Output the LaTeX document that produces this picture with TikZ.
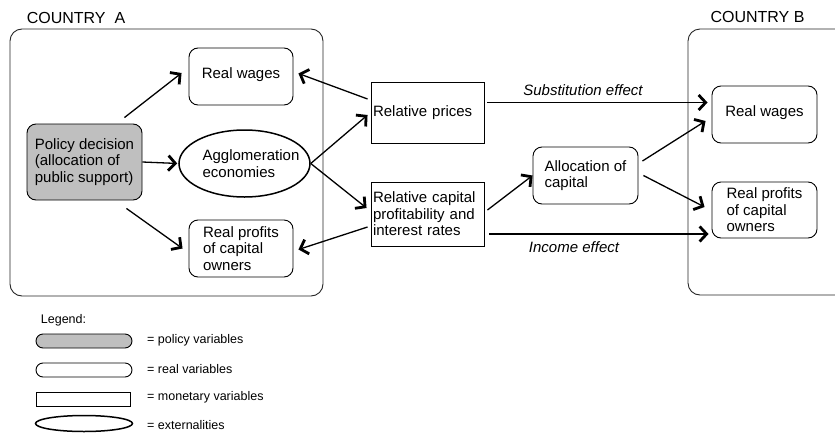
\documentclass[tikz,border=0pt]{standalone}
\usepackage{fontspec}
\setmainfont{Liberation Sans}
\usetikzlibrary{arrows.meta,shapes.geometric}
\begin{document}
\begin{tikzpicture}[x=1pt,y=-1pt,
  every node/.style={font=\fontsize{15}{16.6}\selectfont},
  rbox/.style={draw, rounded corners=9pt, line width=0.9pt, align=left, inner sep=0pt},
  mbox/.style={draw, line width=0.9pt, align=left, inner xsep=2pt, inner ysep=0pt, text width=109pt},
  arr/.style={line width=1.3pt, -{Straight Barb[length=7pt,width=15pt,line width=2.8pt]}},
  lbl/.style={font=\fontsize{15}{16.6}\selectfont\itshape, inner sep=0pt},
  leg/.style={font=\fontsize{12.5}{14}\selectfont, anchor=west, inner sep=0pt},
  country/.style={draw=black!85, line width=0.9pt, rounded corners=12pt},
  ctitle/.style={font=\fontsize{16}{18}\selectfont, inner sep=0pt},
]
\useasboundingbox (0,0) rectangle (835,434);

% country frames
\draw[country] (10,29) rectangle (323,296);
\begin{scope}
  \clip (0,0) rectangle (835,434);
  \draw[country] (688,29) rectangle (860,295);
\end{scope}
\node[ctitle] (ca) at (76,18) {COUNTRY\ \ A};
\node[ctitle] (cb) at (757.5,17) {COUNTRY B};

% country A nodes
\node[rbox, fill=black!25, minimum width=115pt, minimum height=76pt] (pol) at (84.5,162)
  {Policy decision\\(allocation of\\public support)};
\node[rbox, minimum width=104pt, minimum height=57pt, text height=11pt, text depth=8pt] (rwA) at (241,76.5) {Real wages};
\node[draw, ellipse, line width=1.5pt, minimum width=131pt, minimum height=67pt, inner sep=0pt] (agg) at (244.5,163.5) {};
\node[align=left, inner sep=0pt] (aggt) at (251,163.5) {Agglomeration\\economies};
\node[rbox, minimum width=104pt, minimum height=57pt] (rpA) at (241,248.5) {Real profits\\of capital\\owners};

% middle nodes
\node[mbox, minimum height=61pt] (rp) at (427.5,112.5) {Relative prices};
\node[mbox, minimum height=64pt] (rc) at (427.5,214) {Relative capital\\profitability and\\interest rates};
\node[rbox, minimum width=105pt, minimum height=57pt] (alloc) at (585.5,175.5) {Allocation of\\capital};

% country B nodes
\node[rbox, minimum width=105pt, minimum height=57pt, text height=11pt, text depth=8pt] (rwB) at (764.5,114.5) {Real wages};
\node[rbox, minimum width=105pt, minimum height=56pt] (rpB) at (764.5,210) {Real profits\\of capital\\owners};

% arrows in country A
\draw[arr] ([xshift=-18pt,yshift=6pt]pol.north east) -- ([xshift=-7pt,yshift=3.5pt]rwA.west);
\draw[arr, shorten >=1pt] (pol.east) -- (agg.west);
\draw[arr] ([xshift=-16pt,yshift=-8pt]pol.south east) -- ([xshift=-6pt]rpA.west);

% arrows between
\draw[arr] ([xshift=-3pt,yshift=13.5pt]rp.west) -- ([xshift=5pt,yshift=3pt]rwA.east);
\draw[arr] (agg.east) -- ([xshift=-3pt,yshift=-2.5pt]rp.west);
\draw[arr] (agg.east) -- ([xshift=-4pt,yshift=6pt]rc.west);
\draw[arr] ([xshift=-3pt,yshift=-13pt]rc.west) -- ([xshift=5pt,yshift=-1pt]rpA.east);

\coordinate (s1) at ([xshift=3pt,yshift=10pt]rp.east);
\coordinate (s2) at ([xshift=5pt,yshift=-20pt]rc.east);
\draw[arr, shorten >=4pt] (s1) -- (s1 -| rwB.west);
\draw[arr, shorten >=3pt] (s2) -- (s2 -| rpB.west);
\node[lbl] (subst) at (583,90) {Substitution effect};
\node[lbl] (inc) at (574,247) {Income effect};

\draw[arr] ([xshift=3pt,yshift=4pt]rc.east) -- (alloc.west);
\draw[arr] ([xshift=4pt,yshift=14.5pt]alloc.east) -- ([xshift=-6pt,yshift=-6.5pt]rwB.west);
\draw[arr] ([xshift=5pt]alloc.east) -- ([xshift=-7pt,yshift=3pt]rpB.west);

% legend
\node[leg] (legt) at (40.7,320.7) {Legend:};
\node[draw, line width=0.9pt, fill=black!25, rounded corners=7pt, minimum width=96pt, minimum height=14pt, inner sep=0pt] (l1) at (84,341) {};
\node[draw, line width=0.9pt, rounded corners=7pt, minimum width=96pt, minimum height=14pt, inner sep=0pt] (l2) at (84,370) {};
\node[draw, line width=0.9pt, minimum width=94pt, minimum height=14pt, inner sep=0pt] (l3) at (83,399) {};
\node[draw, ellipse, line width=1.5pt, minimum width=97pt, minimum height=16pt, inner sep=0pt] (l4) at (84,423.5) {};
\node[leg] (t1) at (147,340.7) {= policy variables};
\node[leg] (t2) at (147,369) {= real variables};
\node[leg] (t3) at (147,397.3) {= monetary variables};
\node[leg] (t4) at (147,425) {= externalities};
\end{tikzpicture}
\end{document}
